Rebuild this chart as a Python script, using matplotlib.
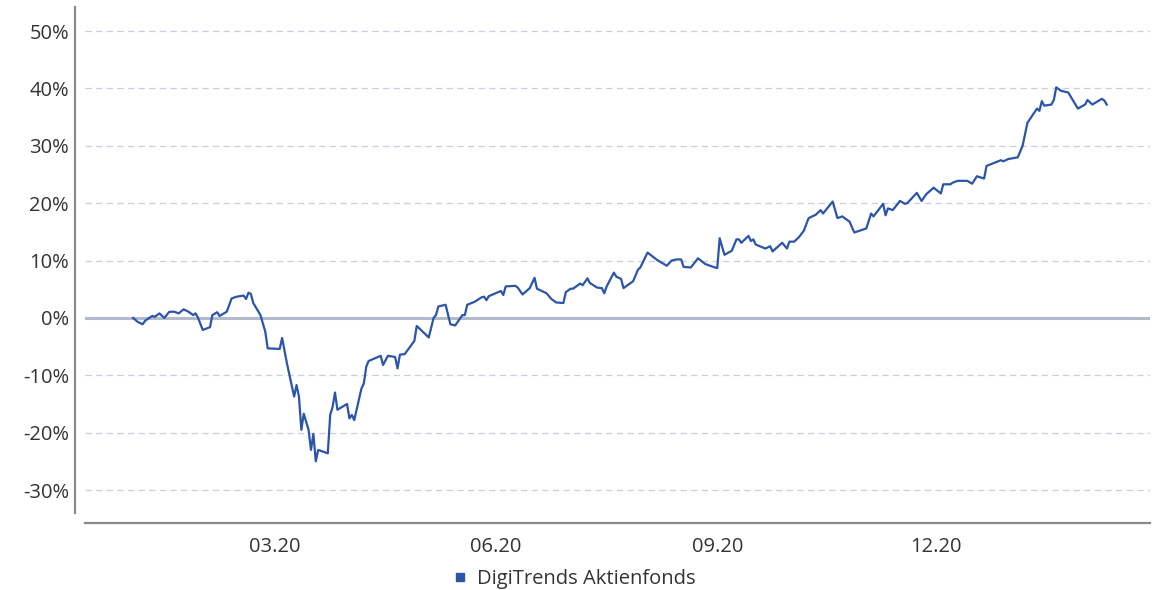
import matplotlib
matplotlib.use("Agg")
import matplotlib.pyplot as plt
import matplotlib.dates as mdates
from matplotlib.lines import Line2D
import pandas as pd

# Wertentwicklung DigiTrends Aktienfonds (in %)
dates = [
    "2020-01-02", "2020-01-04", "2020-01-06", "2020-01-07", "2020-01-08", "2020-01-10",
    "2020-01-11", "2020-01-13", "2020-01-15", "2020-01-17", "2020-01-19", "2020-01-21",
    "2020-01-23", "2020-01-25", "2020-01-27", "2020-01-28", "2020-01-29", "2020-01-31",
    "2020-02-03", "2020-02-04", "2020-02-06", "2020-02-07", "2020-02-10", "2020-02-12",
    "2020-02-14", "2020-02-17", "2020-02-18", "2020-02-19", "2020-02-20", "2020-02-21",
    "2020-02-24", "2020-02-26", "2020-02-27", "2020-03-03", "2020-03-04", "2020-03-06",
    "2020-03-09", "2020-03-10", "2020-03-11", "2020-03-12", "2020-03-13", "2020-03-15",
    "2020-03-16", "2020-03-17", "2020-03-18", "2020-03-19", "2020-03-23", "2020-03-24",
    "2020-03-25", "2020-03-26", "2020-03-27", "2020-03-31", "2020-04-01", "2020-04-02",
    "2020-04-03", "2020-04-06", "2020-04-07", "2020-04-08", "2020-04-09", "2020-04-14",
    "2020-04-15", "2020-04-17", "2020-04-20", "2020-04-21", "2020-04-22", "2020-04-24",
    "2020-04-28", "2020-04-29", "2020-04-30", "2020-05-04", "2020-05-06", "2020-05-07",
    "2020-05-08", "2020-05-11", "2020-05-13", "2020-05-15", "2020-05-18", "2020-05-19",
    "2020-05-20", "2020-05-23", "2020-05-26", "2020-05-27", "2020-05-28", "2020-05-29",
    "2020-06-03", "2020-06-04", "2020-06-05", "2020-06-09", "2020-06-10", "2020-06-12",
    "2020-06-15", "2020-06-17", "2020-06-18", "2020-06-22", "2020-06-24", "2020-06-26",
    "2020-06-29", "2020-06-30", "2020-07-02", "2020-07-03", "2020-07-06", "2020-07-07",
    "2020-07-09", "2020-07-10", "2020-07-13", "2020-07-15", "2020-07-16", "2020-07-17",
    "2020-07-20", "2020-07-21", "2020-07-23", "2020-07-24", "2020-07-28", "2020-07-30",
    "2020-07-31", "2020-08-03", "2020-08-07", "2020-08-11", "2020-08-13", "2020-08-15",
    "2020-08-17", "2020-08-18", "2020-08-21", "2020-08-24", "2020-08-27", "2020-08-31",
    "2020-09-01", "2020-09-02", "2020-09-04", "2020-09-07", "2020-09-09", "2020-09-10",
    "2020-09-11", "2020-09-14", "2020-09-15", "2020-09-16", "2020-09-17", "2020-09-21",
    "2020-09-23", "2020-09-24", "2020-09-28", "2020-09-30", "2020-10-01", "2020-10-03",
    "2020-10-05", "2020-10-07", "2020-10-09", "2020-10-12", "2020-10-14", "2020-10-15",
    "2020-10-19", "2020-10-21", "2020-10-23", "2020-10-26", "2020-10-28", "2020-11-02",
    "2020-11-04", "2020-11-05", "2020-11-09", "2020-11-10", "2020-11-11", "2020-11-13",
    "2020-11-16", "2020-11-18", "2020-11-19", "2020-11-23", "2020-11-25", "2020-11-27",
    "2020-11-30", "2020-12-03", "2020-12-04", "2020-12-07", "2020-12-08", "2020-12-10",
    "2020-12-14", "2020-12-16", "2020-12-18", "2020-12-21", "2020-12-22", "2020-12-25",
    "2020-12-28", "2020-12-29", "2020-12-31", "2021-01-04", "2021-01-06", "2021-01-08",
    "2021-01-12", "2021-01-13", "2021-01-14", "2021-01-15", "2021-01-18", "2021-01-19",
    "2021-01-20", "2021-01-22", "2021-01-25", "2021-01-27", "2021-01-29", "2021-02-01",
    "2021-02-02", "2021-02-04", "2021-02-08", "2021-02-09", "2021-02-10",
]
performance = [
    0.0, -0.7, -1.1, -0.5, -0.2, 0.35,
    0.2, 0.8, 0.0, 1.05, 1.1, 0.8,
    1.5, 1.1, 0.5, 0.8, 0.05, -2.1,
    -1.6, 0.5, 1.0, 0.35, 1.1, 3.4,
    3.7, 3.9, 3.3, 4.4, 4.2, 2.6,
    0.5, -2.4, -5.3, -5.4, -3.5, -7.9,
    -13.7, -11.7, -13.7, -19.5, -16.7, -19.5,
    -23.0, -20.2, -25.0, -23.0, -23.6, -16.9,
    -15.5, -13.0, -16.0, -15.0, -17.5, -16.9,
    -17.8, -12.3, -11.4, -8.5, -7.5, -6.6,
    -8.2, -6.6, -6.8, -8.8, -6.4, -6.3,
    -4.0, -1.4, -1.8, -3.4, 0.0, 0.5,
    2.0, 2.3, -1.1, -1.3, 0.5, 0.5,
    2.3, 2.8, 3.6, 3.7, 3.1, 3.8,
    4.7, 4.0, 5.5, 5.6, 5.3, 4.1,
    5.2, 7.0, 5.1, 4.3, 3.3, 2.7,
    2.6, 4.5, 5.1, 5.1, 6.0, 5.7,
    6.9, 6.1, 5.3, 5.2, 4.3, 5.5,
    7.9, 7.2, 6.8, 5.2, 6.4, 8.4,
    8.8, 11.4, 10.1, 9.1, 10.0, 10.2,
    10.2, 8.9, 8.8, 10.4, 9.4, 8.8,
    8.7, 13.9, 11.0, 11.7, 13.7, 13.7,
    13.1, 14.3, 13.4, 13.7, 12.8, 12.1,
    12.5, 11.6, 13.1, 12.1, 13.3, 13.3,
    14.1, 15.2, 17.4, 18.0, 18.8, 18.2,
    20.3, 17.4, 17.7, 16.8, 14.9, 15.6,
    18.2, 17.7, 19.9, 17.9, 19.1, 18.8,
    20.4, 19.9, 20.0, 21.8, 20.4, 21.6,
    22.7, 21.7, 23.3, 23.3, 23.6, 23.9,
    23.9, 23.4, 24.7, 24.3, 26.5, 27.0,
    27.5, 27.3, 27.7, 28.0, 30.0, 34.0,
    36.5, 36.1, 37.8, 37.0, 37.2, 38.0,
    40.2, 39.6, 39.3, 37.9, 36.5, 37.2,
    38.0, 37.2, 38.2, 37.9, 37.2,
]
fund_name = "DigiTrends Aktienfonds"
y_ticks = [-30, -20, -10, 0, 10, 20, 30, 40, 50]
x_ticks = ["2020-03-01", "2020-06-01", "2020-09-01", "2020-12-01"]

line_color = "#2b55a8"
text_color = "#333333"
plt.rcParams["font.family"] = ["Open Sans", "DejaVu Sans"]

fig = plt.figure(figsize=(11.53, 5.90), dpi=100)
ax = fig.add_axes([0.0737, 0.1305, 0.9237, 0.8576])

# Gitterlinien, Nulllinie durchgezogen
for t in y_ticks:
    if t == 0:
        ax.axhline(0, color="#b3bacb", lw=2.2, zorder=1)
    else:
        ax.axhline(t, color="#c9cde0", lw=0.9, ls=(0, (5, 3.5)), zorder=1)

x = pd.to_datetime(dates)
ax.plot(x, performance, color=line_color, lw=1.6, zorder=3)

ax.set_ylim(-34, 54.2)
ax.set_xlim(pd.Timestamp("2019-12-13"), pd.Timestamp("2021-02-28"))
ax.set_yticks(y_ticks)
ax.set_yticklabels([f"{t}%" for t in y_ticks])
ax.set_xticks(pd.to_datetime(x_ticks))
ax.xaxis.set_major_formatter(mdates.DateFormatter("%m.%y"))
ax.tick_params(axis="y", length=0, pad=4.5, labelsize=14.5, labelcolor=text_color)
ax.tick_params(axis="x", length=0, pad=10, labelsize=14.5, labelcolor=text_color)

for side in ["top", "right"]:
    ax.spines[side].set_visible(False)
for side in ["left", "bottom"]:
    ax.spines[side].set_color("#8a8a8a")
    ax.spines[side].set_linewidth(1.6)
ax.spines["left"].set_position(("outward", 7))
ax.spines["bottom"].set_position(("outward", 7))

handle = Line2D([], [], ls="none", marker="s", markersize=6, color=line_color)
fig.legend([handle], [fund_name], loc="center", bbox_to_anchor=(0.498, 0.018),
           frameon=False, fontsize=14.5, handlelength=0.8, handletextpad=0.45,
           labelcolor=text_color)

fig.savefig("out.png", dpi=100, facecolor="white")
